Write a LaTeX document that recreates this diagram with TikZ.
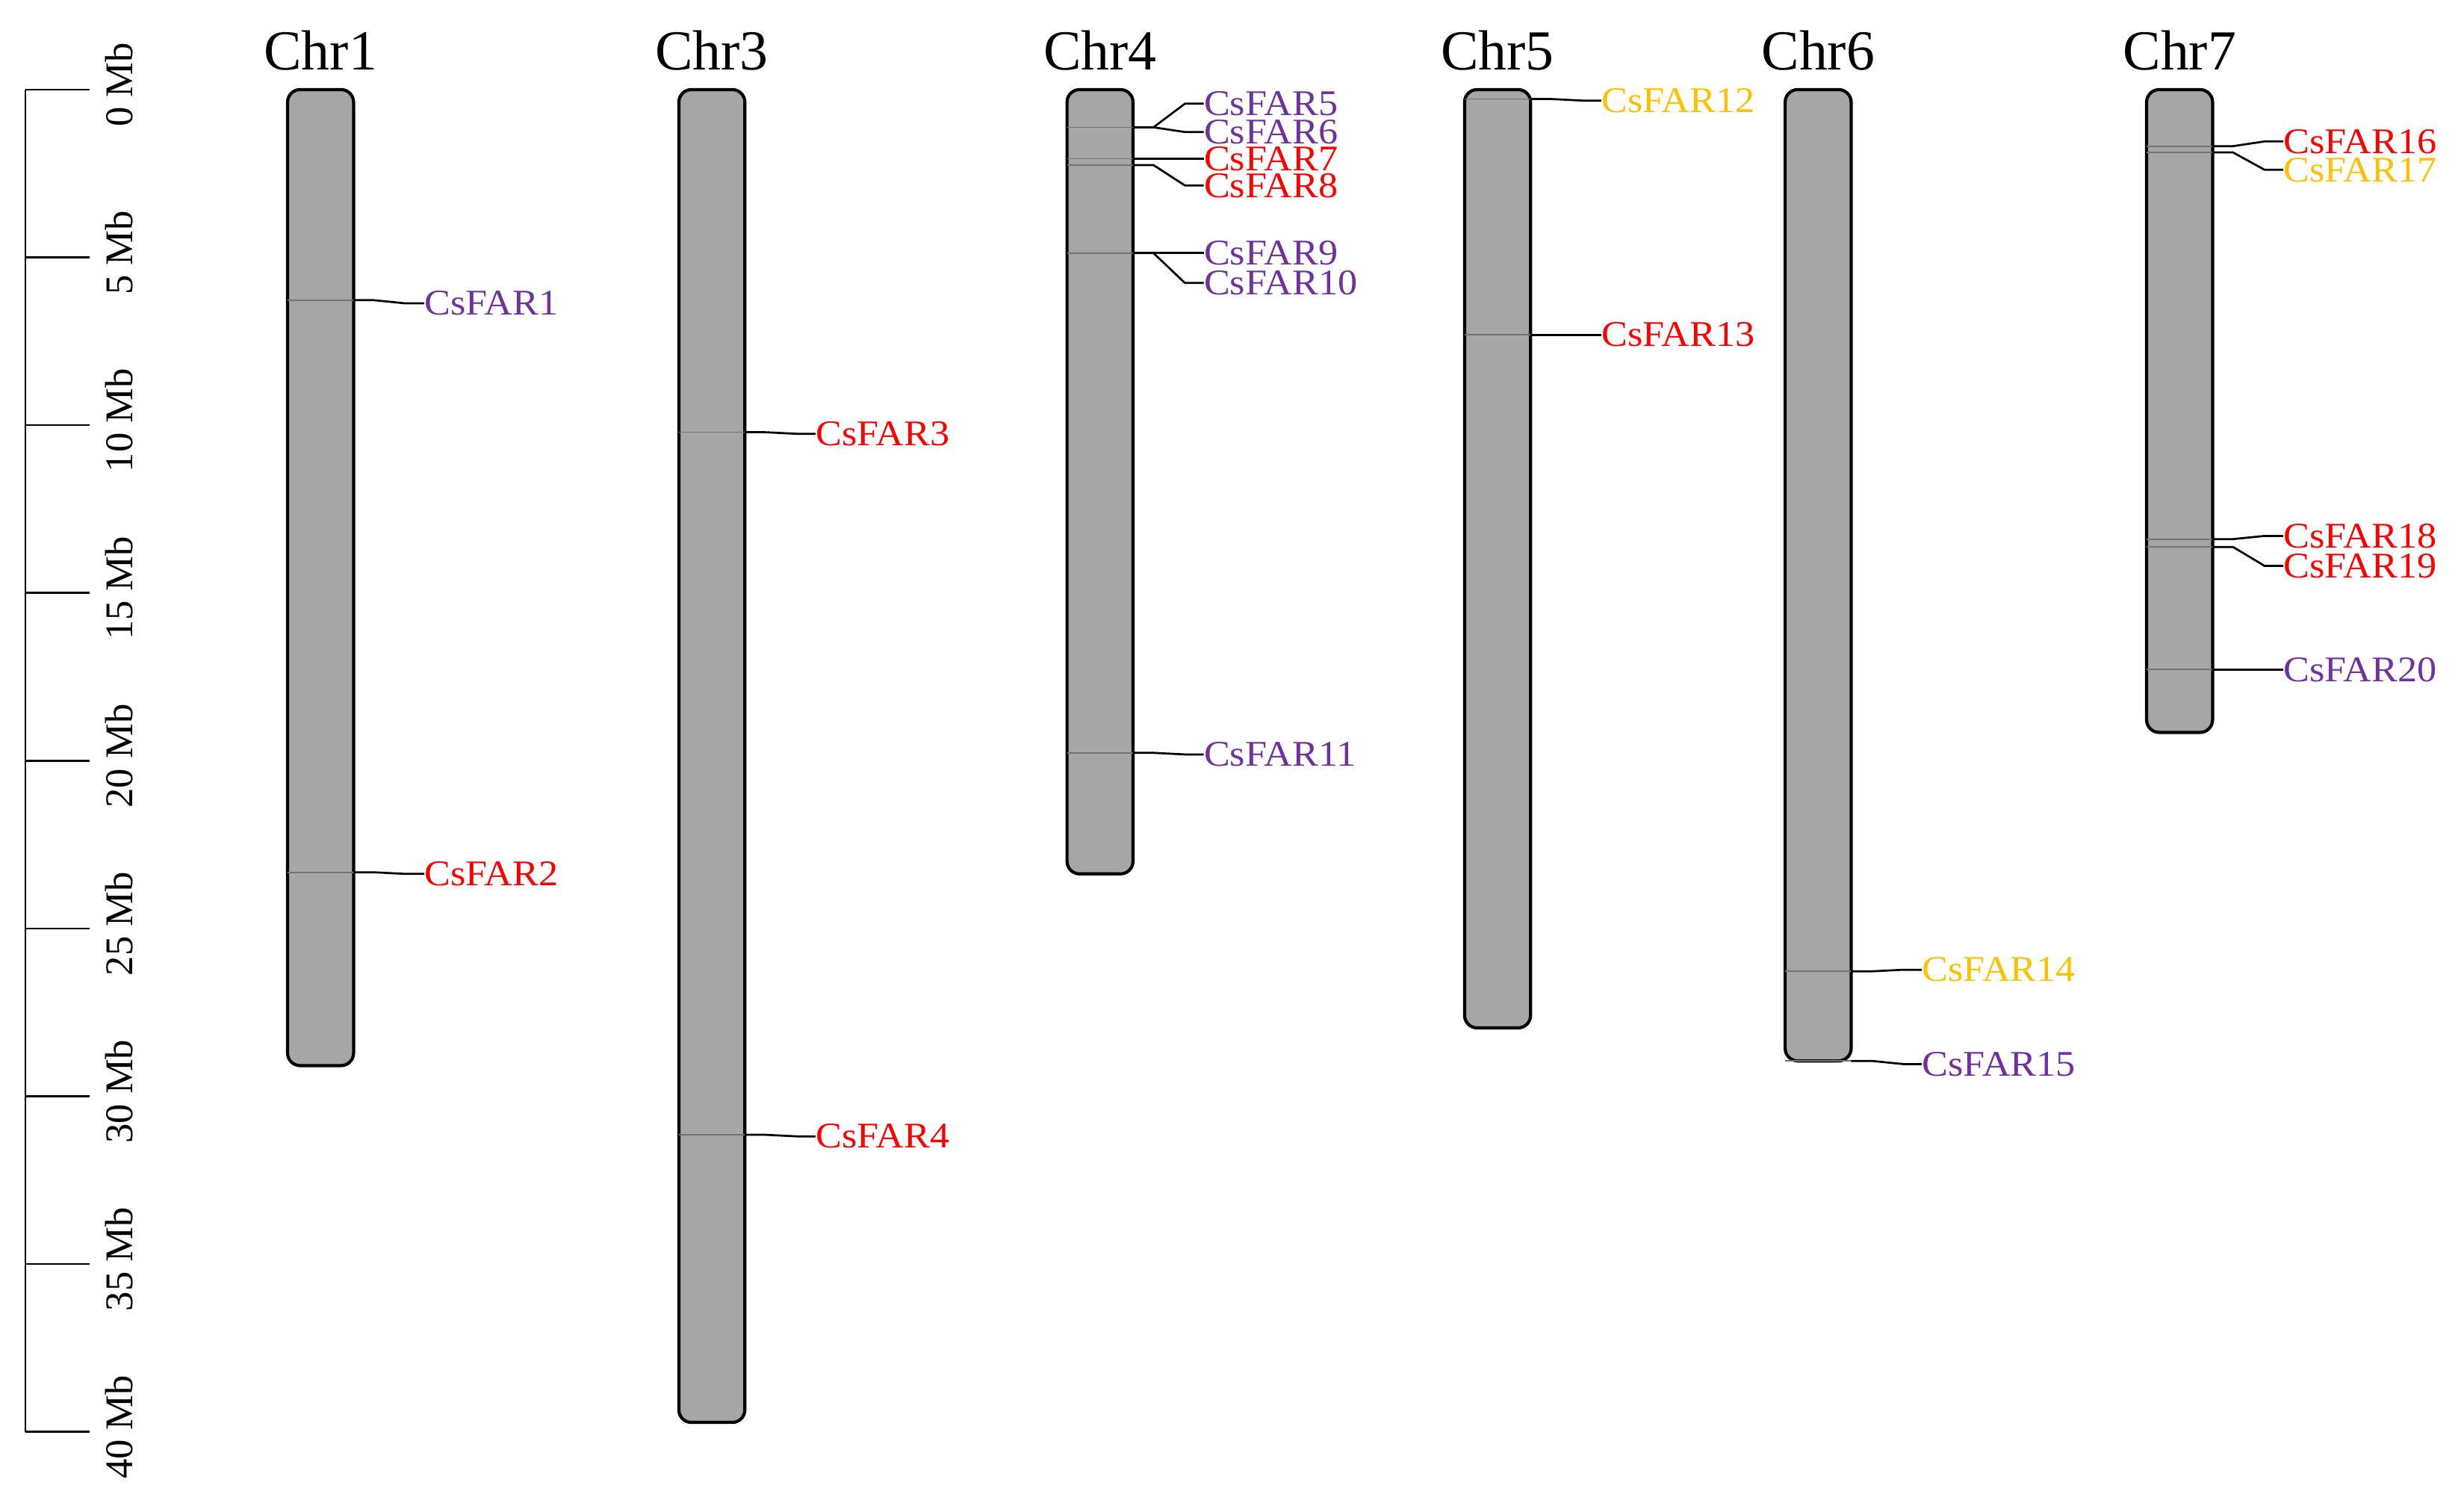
\documentclass[tikz,border=0pt]{standalone}
\usepackage{fontspec}
\setmainfont{Liberation Serif}
\definecolor{fp}{HTML}{7030A0}
\definecolor{fr}{HTML}{FF0000}
\definecolor{fy}{HTML}{FFC000}
\definecolor{chr}{HTML}{A6A6A6}
\tikzset{
 chrom/.style={draw=black,line width=2pt,fill=chr,rounded corners=8pt},
 band/.style={draw=black!55,line width=0.8pt},
 conn/.style={draw=black,line width=1.3pt},
 glab/.style={anchor=west,inner sep=0pt,font=\fontsize{23}{23}\selectfont,xscale=1.08},
 title/.style={font=\fontsize{36}{36}\selectfont},
 rlab/.style={font=\fontsize{25}{25}\selectfont,rotate=90}
}
\newcommand{\mygene}[6]{%
 \coordinate (g#1) at (#3,#4);
 \draw[band] (#2,#4) -- (g#1);
 \node[glab,text=#6] (l#1) at (#3+45,#5) {CsFAR#1};
 \draw[conn] (g#1) -- ++(13,0) -- (#3+33,#5) -- (l#1.west);
}
\newcommand{\mychrom}[4]{%
 \draw[chrom] (#2,57) rectangle (#2+42,#3);
 \node[title] (t#1) at (#2+21,32) {#4};
}
\begin{document}
\begin{tikzpicture}[x=1pt,y=-1pt]
\useasboundingbox (0,0) rectangle (1568,960);
\draw[line width=1pt] (16,57) coordinate (r0) -- (16,911) coordinate (r40);
\foreach \m in {0,5,...,40}{
 \draw[line width=1.3pt] (16,57+21.35*\m) -- (57,57+21.35*\m);
 \node[rlab] (rl\m) at (76,54+21.35*\m) {\m\ Mb};
}
\mychrom{1}{183}{678}{Chr1}
\mychrom{3}{432}{905}{Chr3}
\mychrom{4}{679}{556}{Chr4}
\mychrom{5}{932}{654}{Chr5}
\mychrom{6}{1136}{675}{Chr6}
\mychrom{7}{1366}{466}{Chr7}
\mygene{1}{183}{225}{191}{193}{fp}
\mygene{2}{183}{225}{555}{556}{fr}
\mygene{3}{432}{474}{275}{276}{fr}
\mygene{4}{432}{474}{722}{723}{fr}
\mygene{5}{679}{721}{81}{66}{fp}
\mygene{6}{679}{721}{81}{84}{fp}
\mygene{7}{679}{721}{101}{101}{fr}
\mygene{8}{679}{721}{105}{118}{fr}
\mygene{9}{679}{721}{161}{161}{fp}
\mygene{10}{679}{721}{161}{180}{fp}
\mygene{11}{679}{721}{479}{480}{fp}
\mygene{12}{932}{974}{63}{64}{fy}
\mygene{13}{932}{974}{213}{213}{fr}
\mygene{14}{1136}{1178}{618}{617}{fy}
\mygene{15}{1136}{1178}{675}{677}{fp}
\mygene{16}{1366}{1408}{93}{90}{fr}
\mygene{17}{1366}{1408}{97}{108}{fy}
\mygene{18}{1366}{1408}{343}{341}{fr}
\mygene{19}{1366}{1408}{348}{360}{fr}
\mygene{20}{1366}{1408}{426}{426}{fp}
\end{tikzpicture}
\end{document}
